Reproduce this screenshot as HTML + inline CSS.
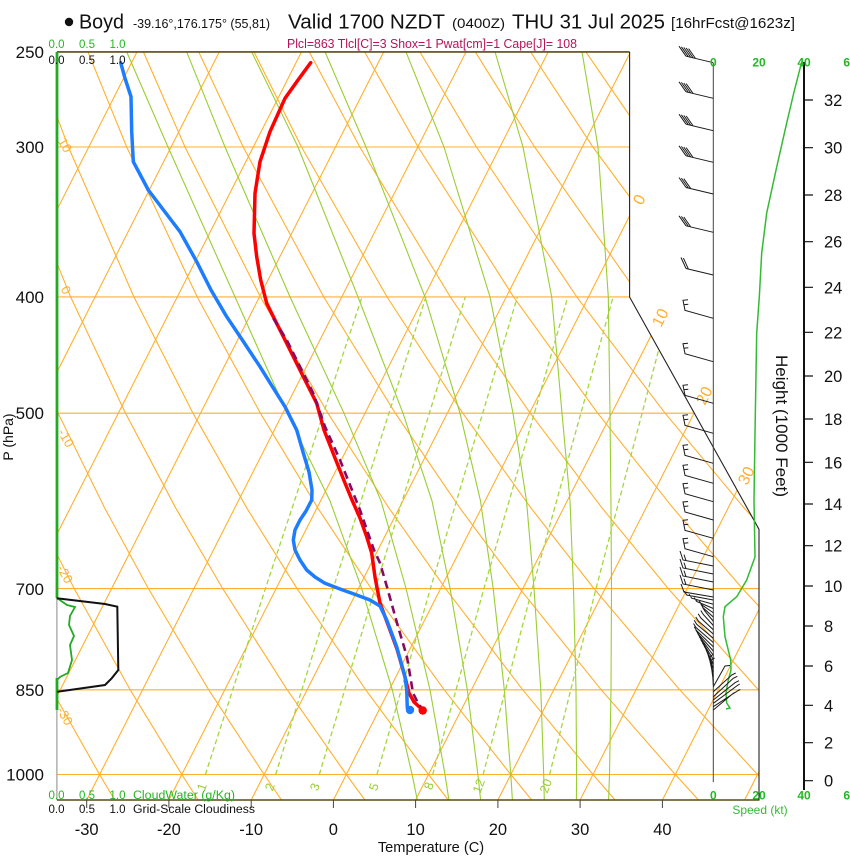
<!DOCTYPE html>
<html><head><meta charset="utf-8"><style>html,body{margin:0;padding:0;background:#fff}svg{display:block}text{font-family:"Liberation Sans",Arial,sans-serif}</style></head><body>
<svg width="850" height="860" viewBox="0 0 850 860" xmlns="http://www.w3.org/2000/svg">
<defs><clipPath id="f"><polygon points="56.9,51.9 629.6,51.9 629.6,297 759,529.3 759,800 56.9,800"/></clipPath></defs>
<rect width="850" height="860" fill="#fff"/>
<g clip-path="url(#f)" fill="none">
<g stroke="#ffb02e" stroke-width="1.1">
<path d="M57 774.5H760M57 689.8H760M57 588.6H760M57 413.2H760M57 296.9H760M57 147H760"/>
<path d="M-242.3 800L137 51.9M-160 800L219.3 51.9M-77.8 800L301.5 51.9M4.4 800L383.7 51.9M86.7 800L466 51.9M168.9 800L548.2 51.9M251.2 800L630.5 51.9M333.4 800L712.7 51.9M415.6 800L794.9 51.9M497.9 800L877.2 51.9M580.1 800L959.4 51.9M662.4 800L1041.7 51.9M744.6 800L1123.9 51.9"/>
<path d="M114.7 800L99.6 774.5L51.7 689.8L-0.1 588.6M198.1 800L181.8 774.5L130.2 689.8L74.2 588.6L33.8 508.3M281.5 800L264.1 774.5L208.7 689.8L148.4 588.6L104.8 508.3L58.1 413.2L7.3 296.9M364.9 800L346.3 774.5L287.2 689.8L222.7 588.6L175.9 508.3L125.5 413.2L70.6 296.9L10.1 147M448.3 800L428.5 774.5L365.7 689.8L297 588.6L247 508.3L193 413.2L133.9 296.9L68.4 147L32.7 51.9M531.7 800L510.8 774.5L444.2 689.8L371.2 588.6L318 508.3L260.4 413.2L197.2 296.9L126.7 147L88 51.9M615.1 800L593 774.5L522.7 689.8L445.5 588.6L389.1 508.3L327.9 413.2L260.4 296.9L185 147L143.4 51.9M698.5 800L675.3 774.5L601.2 689.8L519.7 588.6L460.1 508.3L395.3 413.2L323.7 296.9L243.2 147L198.7 51.9M781.9 800L757.5 774.5L679.7 689.8L594 588.6L531.2 508.3L462.8 413.2L387 296.9L301.5 147L254 51.9M865.3 800L839.7 774.5L758.3 689.8L668.3 588.6L602.3 508.3L530.2 413.2L450.3 296.9L359.8 147L309.3 51.9M922 774.5L836.8 689.8L742.5 588.6L673.3 508.3L597.7 413.2L513.6 296.9L418.1 147L364.6 51.9M915.3 689.8L816.8 588.6L744.4 508.3L665.1 413.2L576.8 296.9L476.4 147L419.9 51.9M891 588.6L815.5 508.3L732.6 413.2L640.1 296.9L534.6 147L475.3 51.9M886.5 508.3L800 413.2L703.4 296.9L592.9 147L530.6 51.9M867.5 413.2L766.7 296.9L651.2 147L585.9 51.9"/>
</g>
<g stroke="#9acd32" stroke-width="1.1">
<path d="M417.3 800L412.1 774.5L392.3 689.8L361.7 588.6L330 500.9L287 413.2L235 296.9L168 147L126.7 51.9"/>
<path d="M448.9 800L445 774.5L430 689.8L406.1 588.6L381 500.9L344 413.2L290 296.9L225 147L186.7 51.9"/>
<path d="M480.6 800L477.9 774.5L467.3 689.8L450.1 588.6L432 500.9L403 413.2L358 296.9L298 147L251.7 51.9"/>
<path d="M512.4 800L510.8 774.5L504.3 689.8L493.2 588.6L480.5 500.9L460 413.2L425 296.9L366 147L325 51.9"/>
<path d="M544.3 800L543.7 774.5L540.8 689.8L534 588.6L526.5 500.9L513 413.2L490 296.9L444 147L406 51.9"/>
<path d="M576.4 800L576.6 774.5L576 689.8L573.5 588.6L570 500.9L562 413.2L551.7 296.9L523 147L495 51.9"/>
<path d="M608.6 800L609.5 774.5L611 689.8L611.5 588.6L611 508.3L610 413.2L608.3 296.9L598 147L582 51.9"/>
</g>
<path stroke="#a5d63a" stroke-width="1.3" stroke-dasharray="5,3" d="M205.4 774.5L265.4 588.6L362 296.9M275.7 774.5L333.1 588.6L425.9 296.9M319.3 774.5L375.1 588.6L465.3 296.9M376.9 774.5L430.4 588.6L517.4 296.9M432.7 774.5L483.9 588.6L567.8 296.9M483.1 774.5L532.3 588.6L613.1 296.9M549.6 774.5L596 588.6L672.6 296.9"/>
</g>
<!-- frame -->
<path d="M56.9 51.9V800" stroke="#888" stroke-width="1" fill="none"/>
<path d="M56.9 51.9H629.6M56.9 800H759.5" stroke="#5a4a1a" stroke-width="1.6" fill="none"/>
<path d="M629.6 51.9V297L759 529.3V800" stroke="#222" stroke-width="1.1" fill="none"/>
<path d="M86.7 800v8M168.9 800v8M251.2 800v8M333.4 800v8M415.6 800v8M497.9 800v8M580.1 800v8M662.4 800v8" stroke="#444" stroke-width="1"/>
<!-- grid labels -->
<g fill="#ffb02e" font-size="13" text-anchor="middle" dominant-baseline="central">
<text transform="translate(65,145) rotate(60)">10</text>
<text transform="translate(66,290) rotate(60)">0</text>
<text transform="translate(66,438) rotate(60)">-10</text>
<text transform="translate(65,574) rotate(60)">-20</text>
<text transform="translate(65,716) rotate(60)">-30</text>
</g>
<g fill="#ffb02e" font-size="16" text-anchor="middle" dominant-baseline="central">
<text transform="translate(640,200) rotate(-63)">0</text>
<text transform="translate(661,318) rotate(-63)">10</text>
<text transform="translate(705,396) rotate(-63)">20</text>
<text transform="translate(747,476) rotate(-63)">30</text>
</g>
<g fill="#9acd32" font-size="12.5" text-anchor="middle" dominant-baseline="central">
<text transform="translate(202,787) rotate(-70)">1</text>
<text transform="translate(270,787) rotate(-70)">2</text>
<text transform="translate(315,787) rotate(-70)">3</text>
<text transform="translate(374,787) rotate(-70)">5</text>
<text transform="translate(429,786) rotate(-70)">8</text>
<text transform="translate(479,786) rotate(-70)">12</text>
<text transform="translate(546,786) rotate(-70)">20</text>
</g>
<!-- cloud panels -->
<path d="M57 52V598" stroke="#22aa22" stroke-width="2.8" fill="none"/>
<path d="M57 678V710" stroke="#22aa22" stroke-width="2.8" fill="none"/>
<path d="M57 598L67 605L75 607L70 616L69 625L74 636L70 645L72 660L68 673L60 677L57 680" stroke="#22aa22" stroke-width="1.8" fill="none"/>
<path d="M56.7 598.3L105 604L117.3 606.7L118.3 670L111.7 678.3L105 685L57.3 691.7" stroke="#111" stroke-width="2" fill="none"/>
<!-- data -->
<path d="M310.7 62.7L298 80L285 98.3L270 131.7L260 161.7L255 193.3L254 233.3L256.7 256.7L260.7 280L266.7 303.3L273.3 316.7L286.7 343.3L303.3 376.7L316.7 403.3L324 430L335 458L345 483L352 500L360 518L366.7 536.7L371.7 553L375 577L380 603L387 622L397 649L405 677L409 693L414 702L422.7 710" stroke="#ff0000" stroke-width="3.5" fill="none" stroke-linejoin="round" stroke-linecap="round"/>
<path d="M273.3 318.3L286.7 340L300 366.7L313.3 393.3L325 426.7L340 460L352 490L360 510L368 533L374 550L380 563L387 587L397 623L407 657L413 693L418 703L423 710" stroke="#860a64" stroke-width="2.6" fill="none" stroke-dasharray="8,5"/>
<path d="M120.7 62.7L125 78.3L131 96.7L131.7 131.7L133.3 161.7L148.3 190L165 212L180 231.7L196.7 261.7L211 290L226.7 316.7L243 341L260 366.7L272 386L285 406.7L296.7 430L303 452L309 472L312 490L311.7 500L306 511L300 520L295 530L293.3 540L295 550L300 560L306.7 570L315 577L325 583.3L340 589L356.7 595L370 600L380 606L386.7 620L396.7 646.7L405 676.7L406.7 690L407.3 708" stroke="#1e7cff" stroke-width="3.5" fill="none" stroke-linejoin="round" stroke-linecap="round"/>
<circle cx="410" cy="710" r="4.2" fill="#1e7cff"/>
<circle cx="422.7" cy="710.5" r="4.2" fill="#ff0000"/>
<!-- wind panel -->
<path d="M713.3 63V782" stroke="#444" stroke-width="1" fill="none"/>
<path d="M804 62V790" stroke="#111" stroke-width="2" fill="none"/>
<path d="M804 100h9M804 147.7h9M804 195h9M804 241.7h9M804 287.3h9M804 332.3h9M804 376h9M804 419h9M804 462.3h9M804 504h9M804 545.7h9M804 586h9M804 626h9M804 666h9M804 705.3h9M804 742.7h9M804 780.7h9" stroke="#111" stroke-width="1.2"/>
<path d="M801.7 62L794 92L786.7 123L776.7 167L766.7 213L761.7 253L759.3 297L756.7 333L755 433L754 500L755 557L746.7 580L736.7 596.7L725 606.7L723.3 616.7L725 636.7L730.7 660L731 670L728.3 680L726 693L726.7 703L730 708L726 709" stroke="#33bb33" stroke-width="1.5" fill="none"/>
<g stroke="#1a1a1a" stroke-width="1" fill="none">
<path d="M713.3 62.7L686 56.2M686 56.2l-7 -10M688.4 56.8l-7 -10M690.8 57.4l-7 -10M693.2 58l-7 -10M695.6 58.6l-7 -10"/>
<path d="M713.3 98.3L686 91.8M686 91.8l-7 -10M688.4 92.4l-7 -10M690.8 93l-7 -10M693.2 93.6l-7 -10"/>
<path d="M713.3 130.7L686 124.2M686 124.2l-7 -10M688.4 124.8l-7 -10M690.8 125.4l-7 -10M693.2 126l-7 -10"/>
<path d="M713.3 162.3L686 155.8M686 155.8l-7 -10M688.4 156.4l-7 -10M690.8 157l-7 -10M693.2 157.6l-7 -10"/>
<path d="M713.3 194L686 187.5M686 187.5l-7 -10M688.4 188.1l-7 -10M690.8 188.7l-7 -10"/>
<path d="M713.3 232.3L686 225.8M686 225.8l-7 -10M688.4 226.4l-7 -10M690.8 227l-7 -10"/>
<path d="M713.3 275L686 268.5M686 268.5l-5 -11M688.4 269.1l-5 -11"/>
<path d="M713.3 318.3L685 310.3L683 300.3L688 299.8M683.8 304.8l4.5 -0.5"/>
<path d="M713.3 361.7L685 353.7L683 343.7L688 343.2M683.8 348.2l4.5 -0.5"/>
<path d="M713.3 403.3L685 395.3L683 385.3L688 384.8M683.8 389.8l4.5 -0.5"/>
<path d="M713.3 433.3L685 425.3L683 415.3L688 414.8M683.8 419.8l4.5 -0.5"/>
<path d="M713.3 463.3L685 455.3L683 445.3L688 444.8M683.8 449.8l4.5 -0.5"/>
<path d="M713.3 483.3L685 475.3L683 465.3L688 464.8M683.8 469.8l4.5 -0.5"/>
<path d="M713.3 501.7L685 493.7L683 483.7L688 483.2M683.8 488.2l4.5 -0.5"/>
<path d="M713.3 520L685 512L683 502L688 501.5M683.8 506.5l4.5 -0.5"/>
<path d="M713.3 538.3L685 530.3L683 520.3L688 519.8M683.8 524.8l4.5 -0.5"/>
<path d="M713.3 556.7L685 548.7L683 538.7L688 538.2M683.8 543.2l4.5 -0.5"/>
<path d="M713.3 566L683 560l-3 -9M686 560.6l-2 -6M713.3 574L683 568l-3 -9M686 568.6l-2 -6M713.3 582L683 576l-3 -9M686 576.6l-2 -6M713.3 590L683 584l-3 -9M686 584.6l-2 -6M713.3 597L684 592l-3 -8"/>
<path d="M713.3 600L686.7 595l-2.5 -4M713.3 604.25L691.7 598.25l-2.5 -4M713.3 608.5L696.7 601.5l-2.5 -4M713.3 612.75L701.7 604.75l-2.5 -4M713.3 617L703.3 608l-2.5 -4M713.3 621.25L705 611.25l-2.5 -4M713.3 625.5L703.3 614.5l-2.5 -4M713.3 629.75L700.7 617.75l-2.5 -4M713.3 634L698.3 621l-2.5 -4M713.3 638.25L696.7 624.25l-2.5 -4M713.3 642.5L696 627.5l-2.5 -4M713.3 646.75L696.7 630.75l-2.5 -4M713.3 651L698.3 634l-2.5 -4M713.3 655.25L700 637.25l-2.5 -4M713.3 659.5L701.7 640.5l-2.5 -4M713.3 663.75L703.3 643.75l-2.5 -4M713.3 668L705 647l-2.5 -4M713.3 672.25L706.7 650.25l-2.5 -4M713.3 676.5L708.3 653.5l-2.5 -4M713.3 680.75L710 656.75l2.5 -2M713.3 685L711.7 660l3 -2"/>
<path d="M713.3 686.7L725 666l5 -0.5M713.3 691.7L731.7 675l4 -2M713.3 696.7L733.3 678.3l4 -2M713.3 700L735 682.7l4 -2M713.3 703.3L736.7 686l3 -2M713.3 706.7L737.3 691l3 -1.5M713.3 710L733.3 693.3l3 -1.5"/>
</g>
<!-- axis text -->
<g font-size="17" text-anchor="end" fill="#111">
<text x="44" y="58">250</text>
<text x="44" y="153">300</text>
<text x="44" y="303">400</text>
<text x="44" y="419">500</text>
<text x="44" y="595">700</text>
<text x="44" y="696">850</text>
<text x="44" y="780.5">1000</text>
</g>
<text transform="translate(13,437) rotate(-90)" font-size="14" text-anchor="middle" fill="#111">P (hPa)</text>
<g font-size="16.5" text-anchor="middle" fill="#111">
<text x="86.7" y="835">-30</text>
<text x="168.9" y="835">-20</text>
<text x="251.2" y="835">-10</text>
<text x="333.4" y="835">0</text>
<text x="415.6" y="835">10</text>
<text x="497.9" y="835">20</text>
<text x="580.1" y="835">30</text>
<text x="662.4" y="835">40</text>
</g>
<text x="431" y="852" font-size="14.6" text-anchor="middle" fill="#111">Temperature (C)</text>
<g font-size="16.5" fill="#111">
<text x="824" y="106">32</text>
<text x="824" y="153.7">30</text>
<text x="824" y="201">28</text>
<text x="824" y="247.7">26</text>
<text x="824" y="293.3">24</text>
<text x="824" y="338.3">22</text>
<text x="824" y="382">20</text>
<text x="824" y="425">18</text>
<text x="824" y="468.3">16</text>
<text x="824" y="510">14</text>
<text x="824" y="551.7">12</text>
<text x="824" y="592">10</text>
<text x="824" y="632">8</text>
<text x="824" y="672">6</text>
<text x="824" y="711.3">4</text>
<text x="824" y="748.7">2</text>
<text x="824" y="786.7">0</text>
</g>
<text transform="translate(776,426) rotate(90)" font-size="16.5" text-anchor="middle" fill="#111" textLength="142" lengthAdjust="spacingAndGlyphs">Height (1000 Feet)</text>
<g font-size="12" font-weight="bold" text-anchor="middle" fill="#22b822">
<text x="713.3" y="66.5">0</text>
<text x="759" y="66.5">20</text>
<text x="804" y="66.5">40</text>
<text x="850" y="66.5">60</text>
<text x="713.3" y="799.5">0</text>
<text x="759" y="799.5">20</text>
<text x="804" y="799.5">40</text>
<text x="850" y="799.5">60</text>
</g>
<text x="760" y="814" font-size="12" text-anchor="middle" fill="#33bb33">Speed (kt)</text>
<!-- cloud labels -->
<g font-size="11.5" text-anchor="middle">
<text x="56.5" y="48" fill="#22b822">0.0</text>
<text x="87" y="48" fill="#22b822">0.5</text>
<text x="117.5" y="48" fill="#22b822">1.0</text>
<text x="56.5" y="64" fill="#111">0.0</text>
<text x="87" y="64" fill="#111">0.5</text>
<text x="117.5" y="64" fill="#111">1.0</text>
<text x="56.5" y="799" fill="#22b822">0.0</text>
<text x="87" y="799" fill="#22b822">0.5</text>
<text x="117.5" y="799" fill="#22b822">1.0</text>
<text x="56.5" y="813" fill="#111">0.0</text>
<text x="87" y="813" fill="#111">0.5</text>
<text x="117.5" y="813" fill="#111">1.0</text>
</g>
<text x="133" y="799" font-size="11.5" fill="#22b822" textLength="102" lengthAdjust="spacingAndGlyphs">CloudWater (g/Kg)</text>
<text x="133" y="813" font-size="11.5" fill="#111" textLength="122" lengthAdjust="spacingAndGlyphs">Grid-Scale Cloudiness</text>
<!-- header -->
<circle cx="69" cy="22" r="4.2" fill="#111"/>
<text x="79" y="28.5" font-size="20" fill="#111" textLength="45" lengthAdjust="spacingAndGlyphs">Boyd</text>
<text x="133" y="28" font-size="12.5" fill="#111" textLength="137" lengthAdjust="spacingAndGlyphs">-39.16°,176.175° (55,81)</text>
<text x="288" y="28.5" font-size="20.5" fill="#111" textLength="157" lengthAdjust="spacingAndGlyphs">Valid 1700 NZDT</text>
<text x="452" y="28" font-size="14" fill="#111" textLength="53" lengthAdjust="spacingAndGlyphs">(0400Z)</text>
<text x="512" y="28.5" font-size="20.5" fill="#111" textLength="153" lengthAdjust="spacingAndGlyphs">THU 31 Jul 2025</text>
<text x="671" y="28" font-size="15" fill="#111" textLength="124" lengthAdjust="spacingAndGlyphs">[16hrFcst@1623z]</text>
<text x="287" y="48" font-size="12.5" fill="#b8125a" textLength="290" lengthAdjust="spacingAndGlyphs">Plcl=863 Tlcl[C]=3 Shox=1 Pwat[cm]=1 Cape[J]= 108</text>
</svg>
</body></html>
